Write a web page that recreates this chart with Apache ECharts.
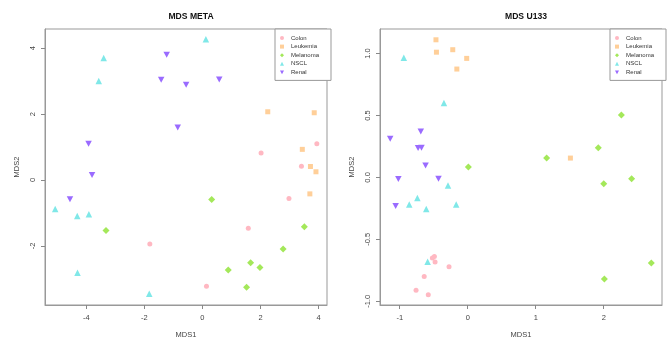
<!DOCTYPE html>
<html>
<head>
<meta charset="utf-8">
<script src="https://cdn.jsdelivr.net/npm/echarts@6/dist/echarts.min.js"></script>
<style>
html,body{margin:0;padding:0;background:#fff;}
#c{width:670px;height:344px;}
</style>
</head>
<body>
<div id="c"></div>
<script>
// ---- Data ----
const classes = ['Colon', 'Leukemia', 'Melanoma', 'NSCL', 'Renal'];

const metaColon    = [[3.94,1.10],[2.02,0.82],[3.41,0.42],[2.98,-0.56],[1.58,-1.46],[-1.81,-1.94],[0.14,-3.22]];
const metaLeukemia = [[2.25,2.07],[3.85,2.04],[3.44,0.93],[3.72,0.41],[3.91,0.25],[3.70,-0.42]];
const metaMelanoma = [[0.32,-0.59],[-3.32,-1.53],[3.51,-1.42],[2.78,-2.09],[1.66,-2.51],[1.98,-2.65],[0.89,-2.73],[1.52,-3.25]];
const metaNSCL     = [[0.12,4.27],[-3.40,3.70],[-3.57,3.00],[-5.07,-0.88],[-4.31,-1.09],[-3.91,-1.04],[-4.30,-2.81],[-1.83,-3.45]];
const metaRenal    = [[-1.23,3.80],[-1.42,3.04],[-0.56,2.89],[0.58,3.05],[-0.85,1.59],[-3.92,1.10],[-3.80,0.15],[-4.56,-0.58]];

const u133Colon    = [[-0.49,-0.637],[-0.52,-0.65],[-0.48,-0.683],[-0.275,-0.72],[-0.64,-0.80],[-0.76,-0.91],[-0.58,-0.946]];
const u133Leukemia = [[-0.467,1.11],[-0.46,1.01],[-0.22,1.03],[-0.015,0.96],[-0.16,0.874],[1.51,0.156]];
const u133Melanoma = [[2.26,0.503],[1.92,0.24],[1.16,0.156],[0.01,0.084],[2.00,-0.051],[2.41,-0.01],[2.70,-0.69],[2.01,-0.82]];
const u133NSCL     = [[-0.94,0.965],[-0.35,0.60],[-0.29,-0.065],[-0.74,-0.166],[-0.86,-0.218],[-0.61,-0.255],[-0.17,-0.218],[-0.59,-0.68]];
const u133Renal    = [[-1.14,0.312],[-0.69,0.371],[-0.73,0.237],[-0.68,0.24],[-0.62,0.097],[-1.02,-0.013],[-0.43,-0.01],[-1.06,-0.23]];

const metaXTicks = [-4, -2, 0, 2, 4];
const metaYTicks = [-2, 0, 2, 4];
const u133XTicks = [-1, 0, 1, 2];
const u133YTicks = [-1, -0.5, 0, 0.5, 1];

const titles = ['MDS META', 'MDS U133'];

// ---- Styling ----
const colors = {Colon:'#FFB8C2', Leukemia:'#FFCF99', Melanoma:'#A4E85A', NSCL:'#80E8E8', Renal:'#9A6BFF'};
const symbols = {Colon:'circle', Leukemia:'rect', Melanoma:'diamond', NSCL:'triangle', Renal:'path://M0,0L10,0L5,9Z'};
const sizes = {Colon:5, Leukemia:5, Melanoma:7, NSCL:6.5, Renal:[6.5,6]};

const metaData = [metaColon, metaLeukemia, metaMelanoma, metaNSCL, metaRenal];
const u133Data = [u133Colon, u133Leukemia, u133Melanoma, u133NSCL, u133Renal];

const chart = echarts.init(document.getElementById('c'), null, {renderer:'canvas'});
const FONT = 'Liberation Sans, Arial, sans-serif';
const grids = [
  {left:45, top:29, width:282, height:276},
  {left:380, top:29, width:282, height:276}
];
function xAxis(gi, min, max, ticks, fmt){
  return {type:'value', gridIndex:gi, min:min, max:max, name:'MDS1', nameLocation:'middle', nameGap:26,
    nameTextStyle:{fontFamily:FONT, fontSize:7.5, color:'#444'},
    splitLine:{show:false},
    axisLine:{show:true, onZero:false, lineStyle:{color:'#999'}},
    axisTick:{show:true, length:4, customValues:ticks, lineStyle:{color:'#888'}},
    axisLabel:{customValues:ticks, margin:9, fontFamily:FONT, fontSize:7.5, color:'#444', formatter:fmt}};
}
function yAxis(gi, min, max, ticks, fmt){
  return {type:'value', gridIndex:gi, min:min, max:max, name:'MDS2', nameLocation:'middle', nameGap:24, nameRotate:90,
    nameTextStyle:{fontFamily:FONT, fontSize:7.5, color:'#444'},
    splitLine:{show:false},
    axisLine:{show:true, onZero:false, lineStyle:{color:'#999'}},
    axisTick:{show:true, length:4, customValues:ticks, lineStyle:{color:'#888'}},
    axisLabel:{customValues:ticks, rotate:90, margin:8, fontFamily:FONT, fontSize:7.5, color:'#444', formatter:fmt}};
}
const series = [];
[metaData, u133Data].forEach(function(set, gi){
  set.forEach(function(d, ci){
    const name = classes[ci];
    series.push({type:'scatter', name:name, xAxisIndex:gi, yAxisIndex:gi, data:d,
      symbol:symbols[name], symbolSize:sizes[name], itemStyle:{color:colors[name], opacity:1},
      emphasis:{disabled:true}, animation:false});
  });
});
function legend(left){
  return {orient:'vertical', left:left, top:29, padding:[6,12,5,5], itemGap:2.6, itemWidth:4, itemHeight:4,
    borderColor:'#999', borderWidth:1, backgroundColor:'#fff', selectedMode:false,
    textStyle:{fontFamily:FONT, fontSize:6, color:'#333', padding:[0,0,0,2]},
    data: classes.map(function(c){ return {name:c}; })};
}
chart.setOption({
  backgroundColor:'#fff',
  animation:false,
  title:[
    {text:titles[0], left:186, top:7, textAlign:'center', textStyle:{fontFamily:FONT, fontSize:8.6, fontWeight:'bold', color:'#111'}},
    {text:titles[1], left:521, top:7, textAlign:'center', textStyle:{fontFamily:FONT, fontSize:8.6, fontWeight:'bold', color:'#111'}}
  ],
  grid: grids.map(function(g){ return Object.assign({show:true, borderColor:'#999', borderWidth:1, backgroundColor:'transparent'}, g); }),
  xAxis:[
    xAxis(0, -5.42, 4.29, metaXTicks, function(v){return String(v);}),
    xAxis(1, -1.29, 2.857, u133XTicks, function(v){return String(v);})
  ],
  yAxis:[
    yAxis(0, -3.79, 4.58, metaYTicks, function(v){return String(v);}),
    yAxis(1, -1.029, 1.197, u133YTicks, function(v){return v.toFixed(1);})
  ],
  legend:[legend(275), legend(610)],
  series:series
});
</script>
</body>
</html>
